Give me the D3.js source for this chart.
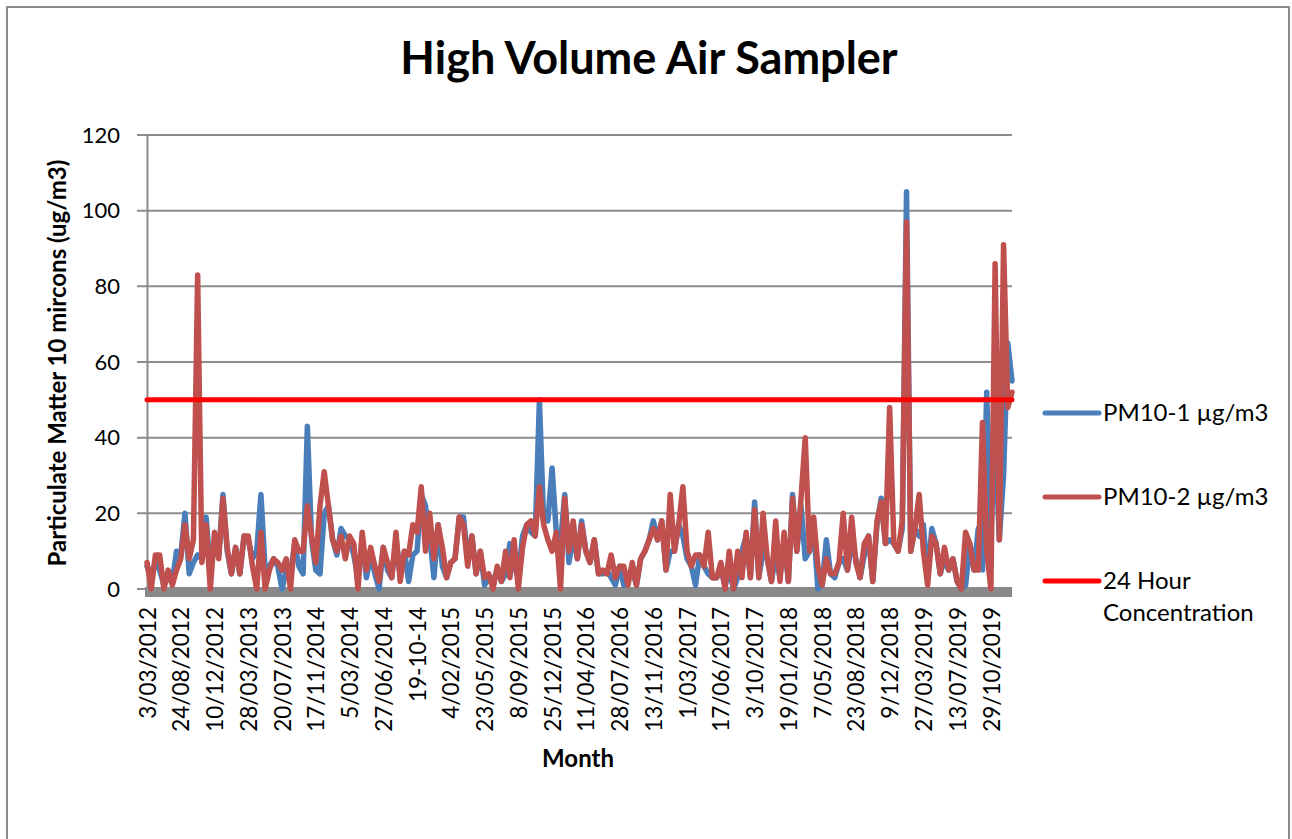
<!DOCTYPE html>
<html lang="en">
<head>
<meta charset="UTF-8" />
<title>High Volume Air Sampler</title>
<style>
  body { margin: 0; background: #fff; }
  text { font-family: Lato, "Open Sans", sans-serif; fill: #000; }
</style>
</head>
<body>
<div id="chart"></div>
<script src="https://d3js.org/d3.v7.min.js"></script>
<script>
const width = 1292;
const height = 839;

// category labels shown every 8th sample
const tickLabels = [
  "3/03/2012", "24/08/2012", "10/12/2012", "28/03/2013", "20/07/2013",
  "17/11/2014", "5/03/2014", "27/06/2014", "19-10-14", "4/02/2015",
  "23/05/2015", "8/09/2015", "25/12/2015", "11/04/2016", "28/07/2016",
  "13/11/2016", "1/03/2017", "17/06/2017", "3/10/2017", "19/01/2018",
  "7/05/2018", "23/08/2018", "9/12/2018", "27/03/2019", "13/07/2019",
  "29/10/2019"
];
const labelEvery = 8;

// PM10-1 µg/m3 (blue)
const pm1 = [
  6, 4, 7, 5, 1, 3, 2, 10, 9, 20,
  4, 7, 9, 8, 19, 5, 12, 9, 25, 10,
  4, 11, 4, 14, 13, 8, 10, 25, 5, 6,
  8, 6, 0, 5, 4, 12, 6, 4, 43, 13,
  5, 4, 20, 22, 13, 9, 16, 14, 13, 9,
  3, 13, 3, 9, 4, 0, 11, 5, 3, 13,
  4, 10, 2, 9, 10, 25, 22, 14, 3, 17,
  6, 3, 7, 8, 19, 19, 8, 14, 4, 10,
  1, 3, 2, 5, 2, 4, 12, 6, 3, 14,
  17, 15, 14, 50, 18, 18, 32, 15, 12, 25,
  7, 14, 8, 18, 10, 7, 13, 4, 4, 5,
  3, 1, 6, 1, 3, 5, 1, 8, 10, 13,
  18, 13, 18, 5, 10, 10, 17, 14, 8, 6,
  1, 9, 6, 4, 3, 3, 5, 1, 5, 0,
  3, 10, 14, 3, 23, 3, 10, 8, 2, 9,
  3, 13, 2, 25, 10, 22, 8, 10, 16, 0,
  1, 13, 4, 3, 7, 8, 5, 12, 8, 3,
  9, 14, 2, 17, 24, 12, 13, 12, 10, 16,
  105, 10, 16, 14, 17, 3, 16, 12, 4, 8,
  5, 8, 2, 0, 1, 12, 5, 16, 5, 52,
  15, 40, 13, 30, 65, 55
];

// PM10-2 µg/m3 (red)
const pm2 = [
  7, 0, 9, 9, 0, 5, 1, 5, 8, 17,
  8, 13, 83, 7, 17, 0, 15, 8, 24, 11,
  4, 11, 4, 14, 14, 6, 0, 15, 0, 5,
  8, 7, 5, 8, 0, 13, 10, 10, 22, 14,
  7, 22, 31, 22, 13, 10, 14, 8, 14, 12,
  0, 15, 5, 11, 6, 2, 11, 7, 3, 15,
  2, 10, 9, 17, 15, 27, 10, 20, 8, 17,
  11, 3, 7, 8, 19, 17, 6, 14, 4, 10,
  3, 4, 0, 6, 2, 10, 3, 13, 0, 11,
  17, 18, 14, 27, 17, 13, 10, 15, 0, 24,
  10, 18, 8, 17, 10, 7, 13, 4, 5, 4,
  9, 3, 6, 6, 1, 7, 1, 8, 10, 13,
  16, 13, 18, 5, 25, 10, 17, 27, 10, 6,
  9, 9, 6, 15, 3, 3, 7, 0, 10, 0,
  10, 3, 15, 3, 21, 3, 20, 8, 2, 18,
  2, 15, 2, 24, 10, 24, 40, 10, 19, 6,
  1, 8, 4, 4, 7, 20, 5, 19, 7, 3,
  12, 14, 2, 18, 23, 12, 48, 12, 10, 18,
  97, 10, 16, 25, 10, 1, 14, 12, 4, 11,
  5, 8, 2, 0, 15, 12, 5, 5, 44, 10,
  0, 86, 13, 91, 48, 52
];

// 24 hour concentration limit
const limit24h = 50;
const yTicks = [0, 20, 40, 60, 80, 100, 120];

const seriesNames = ["PM10-1 µg/m3", "PM10-2 µg/m3", "24 Hour Concentration"];
const colors = ["#4a7ebb", "#c0504d", "#ff0000"];

const plot = { left: 147, right: 1012, top: 135, bottom: 589 };

const svg = d3.select("#chart")
  .append("svg")
  .attr("width", width)
  .attr("height", height);

// outer chart border
svg.append("rect")
  .attr("x", 7).attr("y", 7)
  .attr("width", 1282).attr("height", 850)
  .attr("fill", "none")
  .attr("stroke", "#8c8c8c")
  .attr("stroke-width", 2);

const x = d3.scaleLinear().domain([0, pm1.length - 1]).range([plot.left, plot.right]);
const y = d3.scaleLinear().domain([0, 120]).range([plot.bottom, plot.top]);

// gridlines
svg.append("g")
  .selectAll("line")
  .data(yTicks)
  .join("line")
  .attr("x1", plot.left - 10)
  .attr("x2", plot.right)
  .attr("y1", d => y(d))
  .attr("y2", d => y(d))
  .attr("stroke", "#8c8c8c")
  .attr("stroke-width", 2);

// y axis
const yAxis = svg.append("g")
  .attr("transform", `translate(${plot.left},0)`)
  .call(d3.axisLeft(y).tickValues(yTicks).tickSize(0).tickPadding(27));
yAxis.select(".domain").attr("stroke", "#8c8c8c").attr("stroke-width", 2);
yAxis.selectAll("text").style("font-size", "22px").style("font-family", "Lato, sans-serif");

// thick category axis bar
svg.append("rect")
  .attr("x", plot.left - 2)
  .attr("y", plot.bottom - 2)
  .attr("width", plot.right - plot.left + 2)
  .attr("height", 10)
  .attr("fill", "#898989");

// x axis labels
const xAxis = svg.append("g")
  .attr("transform", `translate(0,${plot.bottom + 18})`)
  .call(d3.axisBottom(x)
    .tickValues(tickLabels.map((d, i) => i * labelEvery))
    .tickFormat((d, i) => tickLabels[i])
    .tickSize(0));
xAxis.select(".domain").remove();
xAxis.selectAll("text")
  .attr("transform", "rotate(-90)")
  .attr("text-anchor", "end")
  .attr("x", 0)
  .attr("y", 0)
  .attr("dy", "0.36em")
  .style("font-size", "22.5px")
  .style("font-family", "Lato, sans-serif");

// series lines
const line = d3.line()
  .x((d, i) => x(i))
  .y(d => y(d));

[pm1, pm2].forEach((s, k) => {
  svg.append("path")
    .datum(s)
    .attr("d", line)
    .attr("fill", "none")
    .attr("stroke", colors[k])
    .attr("stroke-width", 5.5)
    .attr("stroke-linejoin", "round")
    .attr("stroke-linecap", "round");
});

svg.append("line")
  .attr("x1", x(0))
  .attr("x2", x(pm1.length - 1))
  .attr("y1", y(limit24h))
  .attr("y2", y(limit24h))
  .attr("stroke", colors[2])
  .attr("stroke-width", 5)
  .attr("stroke-linecap", "round");

// titles
svg.append("text")
  .attr("x", 649).attr("y", 74)
  .attr("text-anchor", "middle")
  .style("font-size", "45px")
  .style("font-weight", "bold")
  .text("High Volume Air Sampler");

svg.append("text")
  .attr("x", 578).attr("y", 767)
  .attr("text-anchor", "middle")
  .style("font-size", "24px")
  .style("font-weight", "bold")
  .text("Month");

svg.append("text")
  .attr("transform", "translate(66,363) rotate(-90)")
  .attr("text-anchor", "middle")
  .style("font-size", "24px")
  .style("font-weight", "bold")
  .text("Particulate Matter 10 mircons (ug/m3)");

// legend
const legendY = [413, 497, 581];
const legend = svg.append("g");
seriesNames.forEach((name, k) => {
  legend.append("line")
    .attr("x1", 1045).attr("x2", 1099)
    .attr("y1", legendY[k]).attr("y2", legendY[k])
    .attr("stroke", colors[k])
    .attr("stroke-width", 5)
    .attr("stroke-linecap", "round");
  const t = legend.append("text")
    .attr("x", 1103)
    .attr("y", legendY[k] + 8)
    .style("font-size", "24px");
  if (k === 2) {
    t.append("tspan").attr("x", 1103).text("24 Hour");
    t.append("tspan").attr("x", 1103).attr("dy", 32).text("Concentration");
  } else {
    t.text(name);
  }
});
</script>
</body>
</html>
